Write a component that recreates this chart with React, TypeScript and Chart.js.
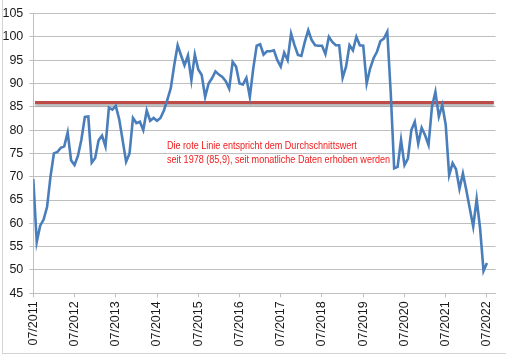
import React, { useEffect, useRef } from "react";
import { Chart, registerables } from "chart.js";

Chart.register(...registerables);

// Monthly index values, 07/2011 ... 07/2022
const MONTH_VALUES: number[] = [
  69.5, 56, 59.5, 60.8, 63.5, 70, 75, 75.3, 76.2, 76.5, 79.5, 73.5,
  72.5, 74.5, 78, 82.8, 82.9, 73, 74, 77.8, 78.8, 76.5, 84.8, 84.4,
  85.2, 82.3, 77.8, 73.2, 75, 82.6, 81.5, 81.8, 80, 84.2, 82, 82.6,
  82, 82.6, 84.2, 86.5, 89, 93.9, 98.2, 96, 93.9, 96, 90.7, 96.2,
  93, 91.8, 87.1, 90, 91.1, 92.6, 91.9, 91.4, 90.5, 88.9, 94.6, 93.6,
  90, 89.8, 91.2, 87.1, 93.2, 98.1, 98.4, 96.2, 96.9, 96.9, 97.1, 95,
  93.6, 96.6, 95, 100.7, 98.2, 96.1, 95.9, 98.9, 101.4, 99.3, 98.2, 98.1,
  98.1, 96.3, 100, 98.9, 98.2, 98.2, 91.2, 93.6, 98.2, 97.1, 100, 98.2,
  98.1, 90, 93.2, 95.4, 96.8, 99.1, 99.6, 101.1, 88, 71.8, 72.1, 77.9,
  72.5, 73.9, 80, 81.8, 77.1, 80.5, 78.9, 76.8, 85, 88.2, 82.9, 85.4,
  81.1, 70.3, 72.9, 71.6, 67.4, 70.7, 67.1, 63.2, 59.3, 65.2, 58.9, 49.8,
  51.5,
];

const TICK_LABELS: string[] = [
  "07/2011", "07/2012", "07/2013", "07/2014", "07/2015", "07/2016",
  "07/2017", "07/2018", "07/2019", "07/2020", "07/2021", "07/2022",
];

const AVERAGE = 85.9;
const AVERAGE_SPAN: number[] = [0.5, 134];
const X_MAX = 134.5;
const Y_MIN = 45;
const Y_MAX = 105;
const Y_STEP = 5;

const NOTE_LINES: string[] = [
  "Die rote Linie entspricht dem Durchschnittswert",
  "seit 1978 (85,9), seit monatliche Daten erhoben werden",
];

const FONT = "'Liberation Sans', Arial, sans-serif";

export default function App() {
  const canvasRef = useRef<HTMLCanvasElement | null>(null);

  useEffect(() => {
    const canvas = canvasRef.current;
    if (!canvas) return;

    const shadowPlugin = {
      id: "redShadow",
      beforeDatasetDraw(chart: any, args: any) {
        if (args.index === 1) {
          const c = chart.ctx;
          c.save();
          c.shadowColor = "rgba(0,0,0,0.32)";
          c.shadowOffsetY = 2;
          c.shadowBlur = 2;
        }
      },
      afterDatasetDraw(chart: any, args: any) {
        if (args.index === 1) chart.ctx.restore();
      },
    };

    const chart = new Chart(canvas, {
      type: "line",
      data: {
        datasets: [
          {
            data: MONTH_VALUES.map((v, i) => ({ x: i, y: v })),
            borderColor: "#4a7ebb",
            borderWidth: 2.6,
            pointRadius: 0,
            tension: 0,
            fill: false,
          },
          {
            data: AVERAGE_SPAN.map((x) => ({ x, y: AVERAGE })),
            borderColor: "#be4b48",
            borderWidth: 3,
            pointRadius: 0,
            fill: false,
          },
        ],
      },
      options: {
        animation: false,
        responsive: false,
        maintainAspectRatio: false,
        layout: { padding: { top: 12, right: 2, left: 0, bottom: 0 } },
        plugins: {
          legend: { display: false },
          tooltip: { enabled: false },
        },
        scales: {
          x: {
            type: "linear",
            min: 0,
            max: X_MAX,
            afterBuildTicks: (scale: any) => {
              scale.ticks = TICK_LABELS.map((_, k) => ({ value: k * 12 }));
            },
            afterFit: (scale: any) => {
              scale.height = 63.7;
            },
            grid: {
              drawOnChartArea: false,
              drawTicks: true,
              tickLength: 4,
              color: "#bfbfbf",
            },
            border: { display: true, color: "#bfbfbf", width: 1 },
            ticks: {
              autoSkip: false,
              maxRotation: 90,
              minRotation: 90,
              padding: 4,
              color: "#1a1a1a",
              font: { family: FONT, size: 12.5 },
              callback: (_v: any, index: number) => TICK_LABELS[index],
            },
          },
          y: {
            min: Y_MIN,
            max: Y_MAX,
            afterFit: (scale: any) => {
              scale.width = 33.3;
            },
            grid: {
              color: "#bfbfbf",
              tickLength: 4,
              lineWidth: 1,
            },
            border: { display: true, color: "#bfbfbf", width: 1 },
            ticks: {
              stepSize: Y_STEP,
              padding: 6,
              color: "#1a1a1a",
              font: { family: FONT, size: 12.5 },
            },
          },
        },
      },
      plugins: [shadowPlugin],
    });

    return () => chart.destroy();
  }, []);

  return (
    <div
      style={{
        position: "fixed",
        left: 0,
        top: 0,
        width: 506,
        height: 357,
        background: "#ffffff",
        overflow: "hidden",
      }}
    >
      <div
        style={{
          position: "absolute",
          left: 2,
          top: -2,
          width: 520,
          height: 356,
          borderLeft: "1px solid #d4d4d4",
          borderBottom: "1px solid #d4d4d4",
          boxSizing: "border-box",
        }}
      />
      <canvas
        ref={canvasRef}
        width={506}
        height={357}
        style={{ position: "absolute", left: 0, top: 0, width: 506, height: 357 }}
      />
      <div
        style={{
          position: "absolute",
          left: 167,
          top: 139,
          color: "#ee1c1c",
          fontFamily: FONT,
          fontSize: 10.6,
          lineHeight: "13.8px",
          whiteSpace: "nowrap",
          transform: "scaleX(0.855)",
          transformOrigin: "left top",
        }}
      >
        {NOTE_LINES.map((t) => (
          <div key={t}>{t}</div>
        ))}
      </div>
    </div>
  );
}
